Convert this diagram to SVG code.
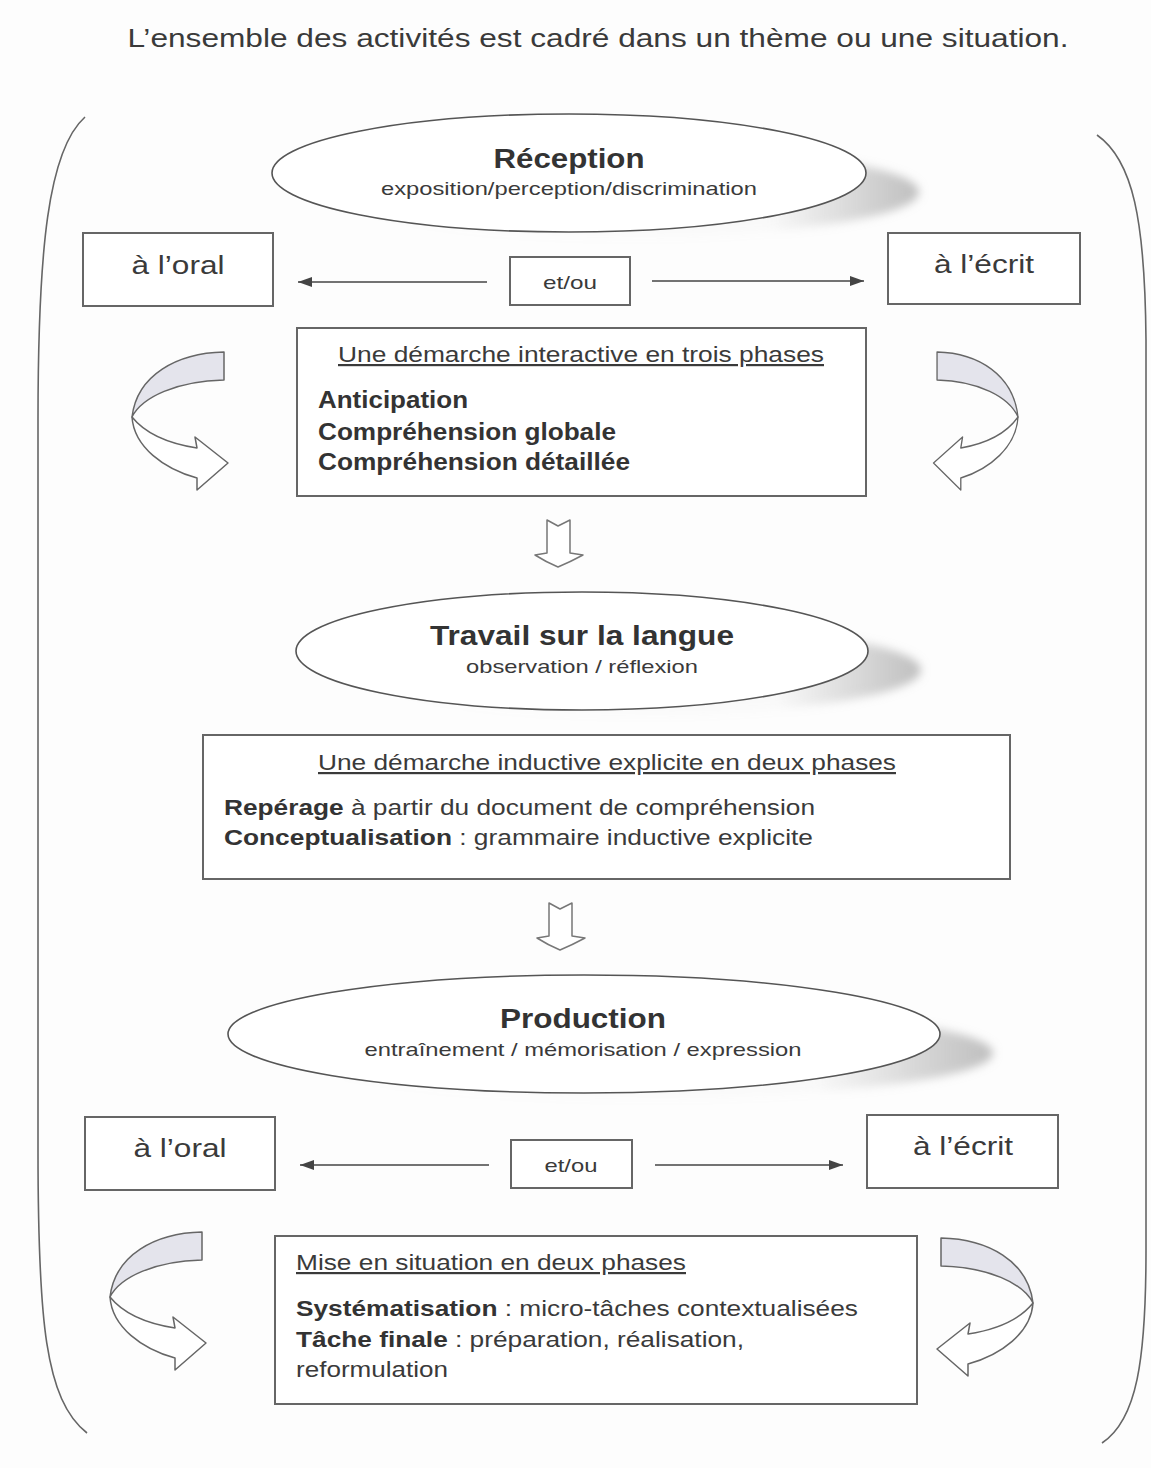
<svg xmlns="http://www.w3.org/2000/svg" width="1151" height="1468" viewBox="0 0 1151 1468">
<style>
text{font-family:"Liberation Sans",Arial,sans-serif;fill:#3a3a3a}
.b{font-weight:bold;fill:#333}
.box{fill:#fff;stroke:#666;stroke-width:2}
.ell{fill:#fff;stroke:#555;stroke-width:1.6}
.con{stroke:#444;stroke-width:1.6;fill:none}
.brk{stroke:#666;stroke-width:1.6;fill:none}
.ul{text-decoration:underline}
.hol{fill:#fff;stroke:#777;stroke-width:1.5;stroke-linejoin:round}
</style>
<defs>
<marker id="ah" markerUnits="userSpaceOnUse" markerWidth="14" markerHeight="10" viewBox="0 0 14 10" refX="14" refY="5" orient="auto">
<path d="M0,0 L14,5 L0,10 z" fill="#444"/>
</marker>
<linearGradient id="sg" x1="0" y1="0" x2="1" y2="0">
<stop offset="0" stop-color="#aaa" stop-opacity="0"/>
<stop offset="0.75" stop-color="#aaa" stop-opacity="0.05"/>
<stop offset="1" stop-color="#aaa" stop-opacity="0.75"/>
</linearGradient>
<filter id="blur" x="-10%" y="-50%" width="120%" height="200%"><feGaussianBlur stdDeviation="5"/></filter>
<g id="curl">
<path d="M92,-65 C45,-64 5,-42 0,0 C10,-20 45,-36 92,-37 Z" fill="#e4e4ec" stroke="#666" stroke-width="1.5" stroke-linejoin="round"/>
<path d="M0,0 C2,30 32,52 65,61 L65,73 L96,46 L63,20 L65,31 C33,26 12,15 0,0 Z" fill="#fff" stroke="#666" stroke-width="1.5" stroke-linejoin="round"/>
</g>
<path id="down" d="M-11,0 L0,6 L12,0 L12,33 L25,35 Q12,42 0,47 Q-12,42 -23,35 L-11,33 Z"/>
</defs>
<rect width="1151" height="1468" fill="#fdfdfd"/>

<g id="title">
<text x="598" y="47" font-size="25" text-anchor="middle" textLength="941" lengthAdjust="spacingAndGlyphs">L’ensemble des activités est cadré dans un thème ou une situation.</text>
</g>

<g id="brackets">
<path class="brk" d="M85,117 C48,150 38,250 38,420 L38,1150 C38,1320 45,1400 87,1433"/>
<path class="brk" d="M1097,135 C1133,160 1145,220 1146,340 L1146,1250 C1146,1360 1137,1420 1102,1443"/>
</g>

<g id="connectors">
<line class="con" x1="487" y1="282" x2="298" y2="282" marker-end="url(#ah)"/>
<line class="con" x1="652" y1="281" x2="864" y2="281" marker-end="url(#ah)"/>
<line class="con" x1="489" y1="1165" x2="300" y2="1165" marker-end="url(#ah)"/>
<line class="con" x1="655" y1="1165" x2="843" y2="1165" marker-end="url(#ah)"/>
<use href="#down" class="hol" transform="translate(558,520)"/>
<use href="#down" class="hol" transform="translate(560,903)"/>
<use href="#curl" transform="translate(132,417)"/>
<use href="#curl" transform="translate(1018,417) scale(-0.88,1)"/>
<use href="#curl" transform="translate(110,1297)"/>
<use href="#curl" transform="translate(1033,1303) scale(-1,1)"/>
</g>

<g id="reception">
<ellipse cx="622" cy="192" rx="297" ry="45" fill="url(#sg)" filter="url(#blur)"/>
<ellipse class="ell" cx="569" cy="173" rx="297" ry="59"/>
<text class="b" x="569" y="168" font-size="27" text-anchor="middle" textLength="151" lengthAdjust="spacingAndGlyphs">Réception</text>
<text x="569" y="195" font-size="19" text-anchor="middle" textLength="376" lengthAdjust="spacingAndGlyphs">exposition/perception/discrimination</text>
</g>

<g id="oral1">
<rect class="box" x="83" y="233" width="190" height="73"/>
<text x="178" y="274" font-size="26" text-anchor="middle" textLength="93" lengthAdjust="spacingAndGlyphs">à l’oral</text>
</g>
<g id="ecrit1">
<rect class="box" x="888" y="233" width="192" height="71"/>
<text x="984" y="273" font-size="26" text-anchor="middle" textLength="100" lengthAdjust="spacingAndGlyphs">à l’écrit</text>
</g>
<g id="etou1">
<rect class="box" x="510" y="257" width="120" height="48"/>
<text x="570" y="289" font-size="19" text-anchor="middle" textLength="54" lengthAdjust="spacingAndGlyphs">et/ou</text>
</g>

<g id="phases1">
<rect class="box" x="297" y="328" width="569" height="168"/>
<text class="ul" x="581" y="362" font-size="22" text-anchor="middle" textLength="486" lengthAdjust="spacingAndGlyphs">Une démarche interactive en trois phases</text>
<text class="b" x="318" y="408" font-size="23" textLength="150" lengthAdjust="spacingAndGlyphs">Anticipation</text>
<text class="b" x="318" y="440" font-size="23" textLength="298" lengthAdjust="spacingAndGlyphs">Compréhension globale</text>
<text class="b" x="318" y="470" font-size="23" textLength="312" lengthAdjust="spacingAndGlyphs">Compréhension détaillée</text>
</g>

<g id="travail">
<ellipse cx="635" cy="670" rx="286" ry="45" fill="url(#sg)" filter="url(#blur)"/>
<ellipse class="ell" cx="582" cy="651" rx="286" ry="59"/>
<text class="b" x="582" y="645" font-size="27" text-anchor="middle" textLength="304" lengthAdjust="spacingAndGlyphs">Travail sur la langue</text>
<text x="582" y="673" font-size="19" text-anchor="middle" textLength="232" lengthAdjust="spacingAndGlyphs">observation / réflexion</text>
</g>

<g id="phases2">
<rect class="box" x="203" y="735" width="807" height="144"/>
<text class="ul" x="607" y="770" font-size="22" text-anchor="middle" textLength="578" lengthAdjust="spacingAndGlyphs">Une démarche inductive explicite en deux phases</text>
<text x="224" y="815" font-size="22" textLength="591" lengthAdjust="spacingAndGlyphs"><tspan class="b">Repérage</tspan> à partir du document de compréhension</text>
<text x="224" y="845" font-size="22" textLength="589" lengthAdjust="spacingAndGlyphs"><tspan class="b">Conceptualisation</tspan> : grammaire inductive explicite</text>
</g>

<g id="production">
<ellipse cx="637" cy="1053" rx="356" ry="45" fill="url(#sg)" filter="url(#blur)"/>
<ellipse class="ell" cx="584" cy="1034" rx="356" ry="59"/>
<text class="b" x="583" y="1028" font-size="27" text-anchor="middle" textLength="166" lengthAdjust="spacingAndGlyphs">Production</text>
<text x="583" y="1056" font-size="19" text-anchor="middle" textLength="437" lengthAdjust="spacingAndGlyphs">entraînement / mémorisation / expression</text>
</g>

<g id="oral2">
<rect class="box" x="85" y="1117" width="190" height="73"/>
<text x="180" y="1157" font-size="26" text-anchor="middle" textLength="93" lengthAdjust="spacingAndGlyphs">à l’oral</text>
</g>
<g id="ecrit2">
<rect class="box" x="867" y="1115" width="191" height="73"/>
<text x="963" y="1155" font-size="26" text-anchor="middle" textLength="100" lengthAdjust="spacingAndGlyphs">à l’écrit</text>
</g>
<g id="etou2">
<rect class="box" x="511" y="1140" width="121" height="48"/>
<text x="571" y="1172" font-size="19" text-anchor="middle" textLength="53" lengthAdjust="spacingAndGlyphs">et/ou</text>
</g>

<g id="situation">
<rect class="box" x="275" y="1236" width="642" height="168"/>
<text class="ul" x="296" y="1270" font-size="22" textLength="390" lengthAdjust="spacingAndGlyphs">Mise en situation en deux phases</text>
<text x="296" y="1316" font-size="22" textLength="562" lengthAdjust="spacingAndGlyphs"><tspan class="b">Systématisation</tspan> : micro-tâches contextualisées</text>
<text x="296" y="1347" font-size="22" textLength="448" lengthAdjust="spacingAndGlyphs"><tspan class="b">Tâche finale</tspan> : préparation, réalisation,</text>
<text x="296" y="1377" font-size="22" textLength="152" lengthAdjust="spacingAndGlyphs">reformulation</text>
</g>
</svg>
